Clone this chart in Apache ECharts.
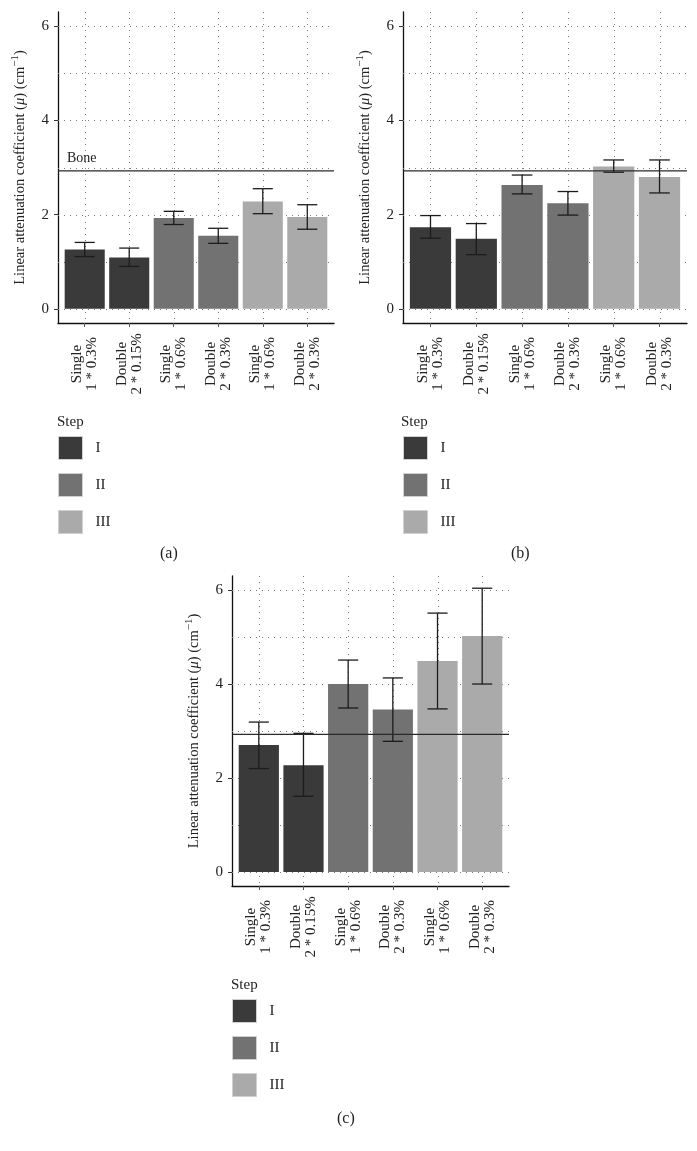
<!DOCTYPE html>
<html><head><meta charset="utf-8">
<script src="https://cdn.jsdelivr.net/npm/echarts@6/dist/echarts.min.js"></script>
<style>html,body{margin:0;padding:0;background:#fff}#c{width:697px;height:1151px}</style>
</head><body><div id="c"></div>
<script>
// ---- data ----
const categories = ['Single\n1 * 0.3%', 'Double\n2 * 0.15%', 'Single\n1 * 0.6%', 'Double\n2 * 0.3%', 'Single\n1 * 0.6%', 'Double\n2 * 0.3%'];
const steps = ['I', 'I', 'II', 'II', 'III', 'III'];
const stepNames = ['I', 'II', 'III'];
const panelLabels = ['(a)', '(b)', '(c)'];
const legendTitle = 'Step';
const yTitle = 'Linear attenuation coefficient ({i|μ}) (cm{s|−1})';
const yTicks = [0, 2, 4, 6];
const gridLevels = [0, 1, 2, 3, 4, 5, 6];
const boneLevel = 2.93;
const boneText = 'Bone';

const valuesA = [1.26, 1.09, 1.93, 1.55, 2.28, 1.95];
const lowA    = [1.11, 0.90, 1.79, 1.39, 2.02, 1.69];
const highA   = [1.41, 1.29, 2.07, 1.71, 2.55, 2.21];

const valuesB = [1.73, 1.49, 2.63, 2.24, 3.02, 2.80];
const lowB    = [1.50, 1.15, 2.44, 1.99, 2.90, 2.46];
const highB   = [1.98, 1.81, 2.84, 2.49, 3.16, 3.16];

const valuesC = [2.70, 2.27, 4.00, 3.46, 4.49, 5.02];
const lowC    = [2.20, 1.61, 3.49, 2.78, 3.47, 4.00];
const highC   = [3.19, 2.95, 4.51, 4.13, 5.51, 6.04];

// ---- styles ----
const FONT = '"Liberation Serif", "DejaVu Serif", serif';
const stepColors = ['#3a3a3a', '#727272', '#aaaaaa'];
const TXT = '#222';
const panels = [
  {values: valuesA, low: lowA, high: highA, grid: {left: 58, right: 363, top: 12, bottom: 828}, legend: {left: 58, top: 436}, step: {left: 57, top: 415}, tag: {left: 160, top: 546}, boneLabel: true},
  {values: valuesB, low: lowB, high: highB, grid: {left: 403, right: 10, top: 12, bottom: 828}, legend: {left: 403, top: 436}, step: {left: 401, top: 415}, tag: {left: 511, top: 546}, boneLabel: false},
  {values: valuesC, low: lowC, high: highC, grid: {left: 232, right: 188, top: 576, bottom: 265}, legend: {left: 232, top: 999}, step: {left: 231, top: 978}, tag: {left: 337, top: 1111}, boneLabel: false}
];
const xIdx = categories.map((c, i) => i + 1);

function renderBar(params, api) {
  const x = api.value(0), v = api.value(1);
  const p0 = api.coord([x - 0.45, v]);
  const p1 = api.coord([x + 0.45, 0]);
  return {type: 'rect', shape: {x: p0[0], y: p0[1], width: p1[0] - p0[0], height: p1[1] - p0[1]},
    style: {fill: api.visual('color')}};
}
function renderErr(params, api) {
  const x = api.value(0), lo = api.value(1), hi = api.value(2);
  const a = api.coord([x, hi]), b = api.coord([x, lo]);
  const l = api.coord([x - 0.225, hi])[0], r = api.coord([x + 0.225, hi])[0];
  const st = {stroke: '#1c1c1c', lineWidth: 1.3, fill: null};
  return {type: 'group', children: [
    {type: 'line', shape: {x1: a[0], y1: a[1], x2: b[0], y2: b[1]}, style: st},
    {type: 'line', shape: {x1: l, y1: a[1], x2: r, y2: a[1]}, style: st},
    {type: 'line', shape: {x1: l, y1: b[1], x2: r, y2: b[1]}, style: st}
  ]};
}
const dotStyle = {stroke: '#7a7a7a', lineWidth: 1, lineDash: [1, 5], fill: null};
function renderHGrid(params, api) {
  const cs = params.coordSys;
  const y = Math.round(api.coord([1, api.value(1)])[1]) + 0.5;
  return {type: 'line', shape: {x1: cs.x, y1: y, x2: cs.x + cs.width, y2: y}, style: dotStyle};
}
function renderVGrid(params, api) {
  const cs = params.coordSys;
  const x = Math.round(api.coord([api.value(0), 0])[0]) + 0.5;
  return {type: 'line', shape: {x1: x, y1: cs.y, x2: x, y2: cs.y + cs.height}, style: dotStyle};
}
function makeBone(withLabel) {
  return function (params, api) {
    const cs = params.coordSys;
    const y = api.coord([1, api.value(1)])[1];
    const ch = [{type: 'line', shape: {x1: cs.x, y1: y, x2: cs.x + cs.width, y2: y}, style: {stroke: '#2a2a2a', lineWidth: 1.2}}];
    if (withLabel) ch.push({type: 'text', style: {text: boneText, x: cs.x + 9, y: y - 5, fill: TXT, font: '14px ' + FONT, verticalAlign: 'bottom', align: 'left'}});
    return {type: 'group', children: ch};
  };
}

const grid = [], xAxis = [], yAxis = [], series = [], legend = [], title = [];
panels.forEach((p, pi) => {
  grid.push(Object.assign({containLabel: false}, p.grid));
  xAxis.push({
    type: 'value', gridIndex: pi, min: 0.4, max: 6.6,
    axisLine: {show: true, onZero: false, lineStyle: {color: '#111', width: 1.3}},
    axisTick: {show: true, customValues: xIdx, length: 4, lineStyle: {color: '#555'}},
    axisLabel: {show: true, customValues: xIdx, rotate: 90, margin: 11,
      formatter: v => { const parts = categories[Math.round(v) - 1].split('\n'); return '{a|' + parts[0] + '}\n{a|' + parts[1] + '}'; },
      rich: {a: {width: 60, align: 'center', fontFamily: FONT, fontSize: 15, lineHeight: 15, color: TXT}}},
    splitLine: {show: false}
  });
  yAxis.push({
    type: 'value', gridIndex: pi, min: -0.3, max: 6.3,
    axisLine: {show: true, onZero: false, lineStyle: {color: '#111', width: 1.3}},
    axisTick: {show: true, customValues: yTicks, length: 4, lineStyle: {color: '#333'}},
    axisLabel: {show: true, customValues: yTicks, margin: 9, fontFamily: FONT, fontSize: 15, color: TXT},
    splitLine: {show: false},
    name: yTitle, nameLocation: 'middle', nameGap: 28,
    nameTextStyle: {fontFamily: FONT, fontSize: 14.5, color: TXT,
      rich: {i: {fontFamily: FONT, fontSize: 14.5, fontStyle: 'italic', color: TXT}, s: {fontFamily: FONT, fontSize: 11, color: TXT, verticalAlign: 'top', lineHeight: 20}}}
  });
  series.push({type: 'custom', name: 'hgrid' + pi, xAxisIndex: pi, yAxisIndex: pi, silent: true, z: 1,
    data: gridLevels.map(v => [1, v]), renderItem: renderHGrid});
  series.push({type: 'custom', name: 'vgrid' + pi, xAxisIndex: pi, yAxisIndex: pi, silent: true, z: 1,
    data: xIdx.map(x => [x, 0]), renderItem: renderVGrid});
  stepNames.forEach((s, si) => {
    const data = [];
    steps.forEach((st, i) => { if (st === s) data.push([i + 1, p.values[i]]); });
    series.push({type: 'custom', name: s, xAxisIndex: pi, yAxisIndex: pi, z: 2,
      itemStyle: {color: stepColors[si]}, data, renderItem: renderBar});
  });
  series.push({type: 'custom', name: 'err' + pi, xAxisIndex: pi, yAxisIndex: pi, z: 3, silent: true,
    data: xIdx.map((x, i) => [x, p.low[i], p.high[i]]), renderItem: renderErr});
  series.push({type: 'custom', name: 'bone' + pi, xAxisIndex: pi, yAxisIndex: pi, z: 4, silent: true,
    data: [[1, boneLevel]], renderItem: makeBone(p.boneLabel)});
  legend.push({
    orient: 'vertical', left: p.legend.left, top: p.legend.top, selectedMode: false,
    itemWidth: 24, itemHeight: 23, itemGap: 13, padding: 0,
    data: stepNames.map((n, i) => ({name: n, icon: 'rect', itemStyle: {color: stepColors[i], borderColor: '#d0d0d0', borderWidth: 1}})),
    textStyle: {fontFamily: FONT, fontSize: 15, color: TXT, padding: [0, 0, 0, 8]}
  });
  title.push({text: legendTitle, left: p.step.left, top: p.step.top, padding: 0, textStyle: {fontFamily: FONT, fontSize: 15, fontWeight: 'normal', color: TXT}});
  title.push({text: panelLabels[pi], left: p.tag.left, top: p.tag.top, padding: 0, textStyle: {fontFamily: FONT, fontSize: 16, fontWeight: 'normal', color: TXT}});
});

const chart = echarts.init(document.getElementById('c'), null, {renderer: 'canvas'});
chart.setOption({backgroundColor: '#fff', animation: false, grid, xAxis, yAxis, series, legend, title});
</script></body></html>
